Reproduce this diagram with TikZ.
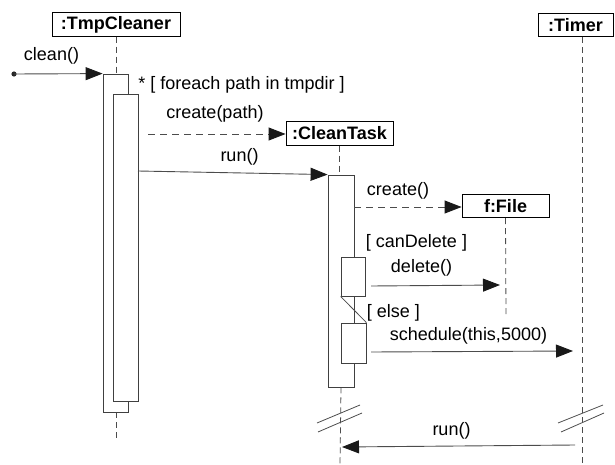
\documentclass[tikz,border=0pt]{standalone}
\usepackage{fontspec}
\setmainfont{Liberation Sans}
\usetikzlibrary{arrows.meta,calc}
\begin{document}
\begin{tikzpicture}[x=1pt,y=-1pt,
  font=\fontsize{18}{20}\selectfont,
  obj/.style={draw=black, line width=0.9pt, fill=white, inner sep=0pt,
    minimum height=23.5pt, font=\fontsize{18}{20}\selectfont\bfseries},
  life/.style={draw=black!70, line width=0.8pt, dash pattern=on 6pt off 4pt},
  act/.style={draw=black!75, line width=0.8pt, fill=white, inner sep=0pt},
  msg/.style={draw=black!70, line width=0.9pt,
    -{Triangle[length=17pt,width=13pt,color=black!90]}},
  crt/.style={msg, dash pattern=on 7pt off 5pt},
  lbl/.style={inner sep=0pt, text=black},
  brk/.style={draw=black!70, line width=0.8pt}
]
\useasboundingbox (0,0) rectangle (615,465);

% object heads
\node[obj, minimum width=128pt] (tmp) at (116,24.5) {:TmpCleaner};
\node[obj, minimum width=107pt] (ct) at (339.5,133.5) {:CleanTask};
\node[obj, minimum width=87pt] (file) at (505.5,206) {f:File};
\node[obj, minimum width=75pt] (timer) at (575.5,25) {:Timer};

% lifeline ends
\coordinate (tmpend) at (116,442);
\coordinate (ctend) at (340,465);
\coordinate (fileend) at (506,315);
\coordinate (timertop) at (582,37);
\coordinate (timerend) at (582,465);

% activation frames (named, used for anchoring)
\node[act, minimum width=25pt, minimum height=338pt] (outer) at (115.5,243) {};
\node[act, minimum width=25pt, minimum height=307pt] (inner) at (125.5,247.5) {};
\node[act, minimum width=26pt, minimum height=212pt] (ctact) at (341,281) {};
\node[act, minimum width=24pt, minimum height=39pt] (a1) at (353,276.5) {};
\node[act, minimum width=25pt, minimum height=40pt] (a2) at (353.5,343) {};

% lifelines
\draw[life] (tmp.south) -- (tmp.south |- outer.north);
\draw[life] (tmp.south |- outer.south) -- (tmpend);
\draw[life] (ct.south) -- (ct.south |- ctact.north);
\draw[life] (ctact.south) -- (ctend);
\draw[life] (file.south) -- (fileend);
\draw[life] (timertop) -- (timerend);

% activations drawn again above the lifelines
\node[act, minimum width=25pt, minimum height=338pt] at (outer) {};
\node[act, minimum width=25pt, minimum height=307pt] at (inner) {};
\node[act, minimum width=26pt, minimum height=212pt] at (ctact) {};
\node[act, minimum width=24pt, minimum height=39pt] at (a1) {};
\node[act, minimum width=25pt, minimum height=40pt] at (a2) {};

% branch link between the two guarded activations
\draw[brk] (a1.south west) -- (a2.north east);

% message end points
\coordinate (cleanfrom) at (14,74);
\coordinate (cpfrom) at (148,134);
\coordinate (runfrom) at (138,171);
\coordinate (cfrom) at (354,207);
\coordinate (delfrom) at (371,286);
\coordinate (delto) at (500,285);
\coordinate (schfrom) at (371,352);
\coordinate (schto) at (573,351);
\coordinate (runbfrom) at (575,445);
\coordinate (runbto) at (342,447);

% messages
\fill[black!85] (cleanfrom) circle (2.6pt);
\draw[msg] (cleanfrom) -- (outer.north west);
\draw[crt] (cpfrom) -- (ct.west |- cpfrom);
\draw[msg] (runfrom) -- (ctact.north west);
\draw[crt] (cfrom) -- (file.west |- cfrom);
\draw[msg] (delfrom) -- (delto);
\draw[msg] (schfrom) -- (schto);
\draw[msg] (runbfrom) -- (runbto);

% labels
\node[lbl] (lclean) at (51.5,56) {clean()};
\node[lbl] (lloop) at (241.5,85) {* [ foreach path in tmpdir ]};
\node[lbl] (lcp) at (215,114) {create(path)};
\node[lbl] (lrun) at (239.5,157) {run()};
\node[lbl] (lc) at (398,191) {create()};
\node[lbl] (lcan) at (416.5,243) {[ canDelete ]};
\node[lbl] (ldel) at (421.5,268) {delete()};
\node[lbl] (lelse) at (393.5,313) {[ else ]};
\node[lbl] (lsch) at (468.5,336) {schedule(this,5000)};
\node[lbl] (lrunb) at (451.5,431) {run()};

% time break marks
\draw[brk] (317,423) -- (360,405);
\draw[brk] (318,432) -- (362,413);
\draw[brk] (558,423) -- (603,405);
\draw[brk] (561,432) -- (604,413);
\end{tikzpicture}
\end{document}
